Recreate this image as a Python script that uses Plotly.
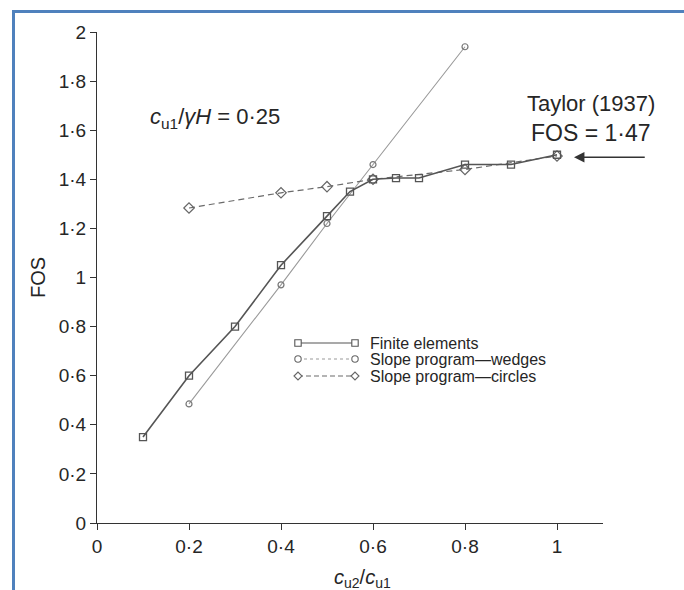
import plotly.graph_objects as go

# Factor of safety vs. strength ratio c_u2/c_u1 (c_u1/γH = 0.25)
fe_x = [0.1, 0.2, 0.3, 0.4, 0.5, 0.55, 0.6, 0.65, 0.7, 0.8, 0.9, 1.0]
fe_y = [0.35, 0.60, 0.80, 1.05, 1.25, 1.35, 1.40, 1.405, 1.405, 1.46, 1.46, 1.50]

wedge_x = [0.2, 0.4, 0.5, 0.6, 0.8]
wedge_y = [0.485, 0.97, 1.22, 1.46, 1.94]

circle_x = [0.2, 0.4, 0.5, 0.6, 0.8, 1.0]
circle_y = [1.283, 1.345, 1.37, 1.40, 1.44, 1.495]

taylor_fos = 1.49  # arrow level at the Taylor (1937) solution

x_ticks = [0, 0.2, 0.4, 0.6, 0.8, 1.0]
x_ticktext = ["0", "0·2", "0·4", "0·6", "0·8", "1"]
y_ticks = [0, 0.2, 0.4, 0.6, 0.8, 1.0, 1.2, 1.4, 1.6, 1.8, 2.0]
y_ticktext = ["0", "0·2", "0·4", "0·6", "0·8", "1", "1·2", "1·4", "1·6", "1·8", "2"]

series_names = ["Finite elements", "Slope program—wedges", "Slope program—circles"]

FONT = "Liberation Sans, Arial, sans-serif"
TXT = "#262626"

W, H = 684, 590
ML, MR, MT, MB = 97, 81, 32, 67
PW, PH = W - ML - MR, H - MT - MB


def px(xp):
    """page pixel x -> paper fraction"""
    return (xp - ML) / PW


def py(yp):
    """page pixel y -> paper fraction"""
    return (H - MB - yp) / PH


styles = [
    dict(line=dict(color="#555555", width=1.6),
         marker=dict(symbol="square-open", size=7, color="#555555", line=dict(width=1.3))),
    dict(line=dict(color="#9a9a9a", width=1.1),
         marker=dict(symbol="circle-open", size=6, color="#777777", line=dict(width=1.2))),
    dict(line=dict(color="#6a6a6a", width=1.2, dash="6px,4px"),
         marker=dict(symbol="diamond-open", size=8, color="#666666", line=dict(width=1.2))),
]

fig = go.Figure()
for xs, ys, name, st in [(wedge_x, wedge_y, series_names[1], styles[1]),
                         (circle_x, circle_y, series_names[2], styles[2]),
                         (fe_x, fe_y, series_names[0], styles[0])]:
    fig.add_trace(go.Scatter(x=xs, y=ys, mode="lines+markers", name=name,
                             line=st["line"], marker=st["marker"],
                             cliponaxis=False, showlegend=False))

annotations = [
    dict(x=0.257, y=1.65, xref="x", yref="y", showarrow=False,
         text="<i>c</i><sub>u1</sub>/<i>γH</i> = 0·25",
         font=dict(family=FONT, size=22, color=TXT)),
    dict(x=1.074, y=1.707, xref="x", yref="y", showarrow=False,
         text="Taylor (1937)", font=dict(family=FONT, size=22, color=TXT)),
    dict(x=1.074, y=1.589, xref="x", yref="y", showarrow=False,
         text="FOS = 1·47", font=dict(family=FONT, size=23, color=TXT)),
    dict(x=1.037, y=taylor_fos, ax=1.194, ay=taylor_fos,
         xref="x", yref="y", axref="x", ayref="y",
         showarrow=True, arrowhead=2, arrowsize=1.3, arrowwidth=1.6,
         arrowcolor="#333333", text=""),
    dict(x=px(362), y=py(578), xref="paper", yref="paper",
         xanchor="center", yanchor="middle", showarrow=False,
         text="<i>c</i><sub>u2</sub>/<i>c</i><sub>u1</sub>",
         font=dict(family=FONT, size=20, color=TXT)),
    dict(x=px(38), y=py(278), xref="paper", yref="paper",
         xanchor="center", yanchor="middle", showarrow=False,
         text="FOS", textangle=-90,
         font=dict(family=FONT, size=20, color=TXT)),
]

# blue frame along the top and left edges of the page
shapes = [
    dict(type="line", xref="paper", yref="paper",
         x0=px(12), x1=px(W + 5), y0=py(11.5), y1=py(11.5),
         line=dict(color="#4f81bd", width=3)),
    dict(type="line", xref="paper", yref="paper",
         x0=px(13.5), x1=px(13.5), y0=py(10), y1=py(H + 5),
         line=dict(color="#4f81bd", width=3)),
]

# legend drawn as a key: sample line with a marker at each end, then label
key_rows = [343, 359, 376]
key_x0, key_x1, key_text = 298, 355, 368
key_dash = ["solid", "3px,3px", "5px,3px"]
for i, (name, st, yr) in enumerate(zip(series_names, styles, key_rows)):
    shapes.append(dict(type="line", xref="paper", yref="paper",
                       x0=px(key_x0), x1=px(key_x1), y0=py(yr), y1=py(yr),
                       line=dict(color=st["line"]["color"], width=1.2, dash=key_dash[i])))
    for xc in (key_x0, key_x1):
        r = 3.2
        if i == 0:
            shapes.append(dict(type="rect", xref="paper", yref="paper",
                               x0=px(xc - r), x1=px(xc + r), y0=py(yr - r), y1=py(yr + r),
                               fillcolor="white", line=dict(color="#555555", width=1.1)))
        elif i == 1:
            shapes.append(dict(type="circle", xref="paper", yref="paper",
                               x0=px(xc - r), x1=px(xc + r), y0=py(yr - r), y1=py(yr + r),
                               fillcolor="white", line=dict(color="#666666", width=1.1)))
        else:
            d = 4
            path = (f"M {px(xc - d)},{py(yr)} L {px(xc)},{py(yr - d)} "
                    f"L {px(xc + d)},{py(yr)} L {px(xc)},{py(yr + d)} Z")
            shapes.append(dict(type="path", xref="paper", yref="paper", path=path,
                               fillcolor="white", line=dict(color="#666666", width=1.1)))
    annotations.append(dict(x=px(key_text), y=py(yr), xref="paper", yref="paper",
                            xanchor="left", yanchor="middle", showarrow=False,
                            text=name, font=dict(family=FONT, size=16, color=TXT)))

fig.update_layout(
    width=W, height=H,
    margin=dict(l=ML, r=MR, t=MT, b=MB),
    paper_bgcolor="white", plot_bgcolor="white",
    font=dict(family=FONT, color=TXT),
    showlegend=False,
    annotations=annotations,
    shapes=shapes,
)

fig.update_xaxes(
    range=[0, 1.1], tickvals=x_ticks, ticktext=x_ticktext,
    showgrid=False, zeroline=False, showline=True, linecolor="#333333", linewidth=1.2,
    ticks="outside", ticklen=6, tickcolor="#333333",
    tickfont=dict(size=19, color=TXT),
)
fig.update_yaxes(
    range=[0, 2], tickvals=y_ticks, ticktext=y_ticktext,
    showgrid=False, zeroline=False, showline=True, linecolor="#333333", linewidth=1.2,
    ticks="outside", ticklen=6, tickcolor="#333333",
    tickfont=dict(size=19, color=TXT),
)

fig.write_html("out.html")
